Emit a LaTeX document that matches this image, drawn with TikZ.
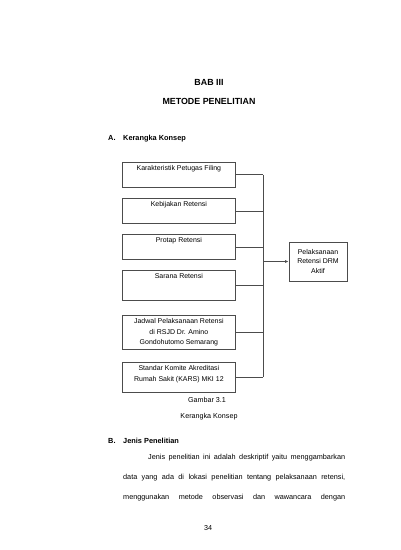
\documentclass[tikz,border=0pt]{standalone}
\usepackage{fontspec}
\setmainfont{Liberation Sans}
\usetikzlibrary{arrows.meta}
\begin{document}
\begin{tikzpicture}[x=1bp,y=-1bp,
  box/.style={draw=black!70, line width=0.75bp, minimum width=113bp, inner sep=0pt, anchor=north west},
  boxtext/.style={anchor=north, inner sep=0pt, align=center, yshift=-3.5bp, font=\fontsize{7}{10.5}\selectfont},
  conn/.style={draw=black!70, line width=0.75bp},
  head/.style={font=\fontsize{8.9}{10}\selectfont\bfseries, inner sep=0pt},
  subhead/.style={font=\fontsize{7.4}{9}\selectfont\bfseries, inner sep=0pt, anchor=base west},
  captext/.style={font=\fontsize{7.2}{9}\selectfont, inner sep=0pt},
]
\useasboundingbox (0,0) rectangle (400,550);
\fill[white] (0,0) rectangle (400,550);

% headings
\node[head] (bab) at (209,82) {BAB III};
\node[head] (judul) at (209,101) {METODE PENELITIAN};
\node[subhead] (subA) at (108,140.5) {A.};
\node[subhead] (subAt) at (123,140.5) {Kerangka Konsep};

% boxes
\node[box, minimum height=25bp, label={[boxtext]north:Karakteristik Petugas Filing}] (b1) at (122,162) {};
\node[box, minimum height=25bp, label={[boxtext]north:Kebijakan Retensi}] (b2) at (122,198) {};
\node[box, minimum height=25bp, label={[boxtext]north:Protap Retensi}] (b3) at (122,234) {};
\node[box, minimum height=30bp, label={[boxtext]north:Sarana Retensi}] (b4) at (122,270) {};
\node[box, minimum height=34bp, label={[boxtext]north:Jadwal Pelaksanaan Retensi\\di RSJD Dr. Amino\\Gondohutomo Semarang}] (b5) at (122,315) {};
\node[box, minimum height=30bp, label={[boxtext]north:Standar Komite Akreditasi\\Rumah Sakit (KARS) MKI 12}] (b6) at (122,362) {};

\node[box, anchor=center, minimum width=58bp, minimum height=39bp, align=center,
      font=\fontsize{7}{9.5}\selectfont] (drm) at (318,261.5) {Pelaksanaan\\Retensi DRM\\Aktif};

% connectors
\coordinate (busx) at (263,0);
\foreach \b in {b1,b2,b3,b4,b5,b6} \draw[conn] (\b.east) -- (\b.east -| busx);
\draw[conn] (b1.east -| busx) -- (b6.east -| busx);
\draw[conn, -{Latex[length=3.5bp,width=3bp]}] (drm.west -| busx) -- (drm.west);

% caption
\node[captext] (gbr) at (207,400) {Gambar 3.1};
\node[captext] (gbrt) at (209,417) {Kerangka Konsep};

% section B
\node[subhead] (subB) at (108,443.5) {B.};
\node[subhead] (subBt) at (123,443.5) {Jenis Penelitian};

\node[anchor=north west, inner sep=0pt, text width=222bp, align=justify,
      font=\fontsize{7.3}{20}\selectfont] (para) at (123,454)
  {\hspace*{25bp}Jenis penelitian ini adalah deskriptif yaitu menggambarkan\linebreak
   data yang ada di lokasi penelitian tentang pelaksanaan retensi,\linebreak
   menggunakan metode observasi dan wawancara dengan\setlength{\parfillskip}{0pt}\par};

\node[captext] (page) at (208,528) {34};
\end{tikzpicture}
\end{document}
